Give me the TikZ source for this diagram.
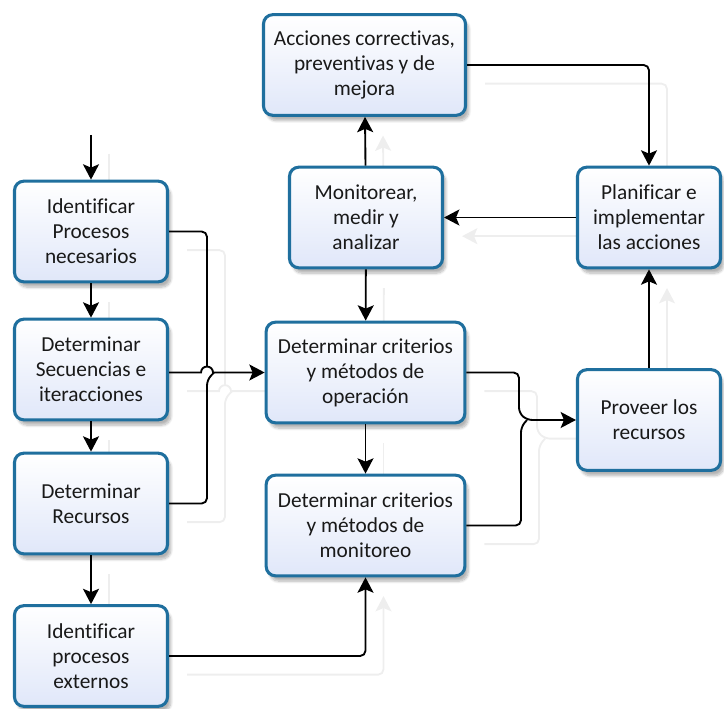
\documentclass[tikz,border=0pt]{standalone}
\usepackage{fontspec}
\setmainfont{Carlito}[Ligatures=NoCommon]
\usetikzlibrary{arrows.meta,shadows.blur,backgrounds}
\definecolor{boxedge}{RGB}{31,111,158}
\definecolor{boxlow}{RGB}{224,231,249}
\definecolor{ink}{RGB}{25,25,25}
\definecolor{ghostline}{RGB}{238,238,238}

\tikzset{
  box/.style={draw=boxedge, line width=2.3pt, rounded corners=7pt,
    top color=white, bottom color=boxlow, align=center, text=ink,
    font=\fontsize{16}{18.75}\selectfont, inner sep=0pt,
    blur shadow={shadow xshift=2.5pt, shadow yshift=-4pt, shadow blur steps=8, shadow opacity=30}},
  smallbox/.style={box, minimum width=114.75pt, minimum height=75.5pt},
  sidebox/.style={box, minimum width=107.25pt, minimum height=75.5pt},
  widebox/.style={box, minimum width=149pt, minimum height=75.5pt},
  wire/.style={line width=1.4pt, rounded corners=4pt},
  tip/.style={-{Stealth[length=11.5pt,width=12pt,inset=2.5pt]}},
}

% every connector of the chart; drawn once as a faint offset shadow, once in black
\newcommand\wiring{%
  \draw[wire,tip] (in) -- (idp.north);
  \draw[wire,tip] (idp) -- (sec);
  \draw[wire,tip] (sec) -- (rec);
  \draw[wire,tip] (rec) -- (ext);
  \draw[wire] (idp.east) -- (207,231.5) -- (207,366.5);
  \draw[wire,tip,sharp corners] (sec.east |- op.west) -- (201,372.5)
      arc[start angle=180,end angle=0,radius=4.5pt] -- (op.west);
  \draw[wire] (rec.east) -- (207,503.5) -- (207,380) -- (214,372.5);
  \draw[wire,tip] (op.east) -- (519,372.5) -- (519,413) -- (j2) -- (pro.west);
  \draw[wire] (mo.east) -- (521,525.5) -- (521,427) -- (j2);
  \draw[wire,tip] (mon) -- (acc);
  \draw[wire,tip] (acc.east) -| (pla.north);
  \draw[wire,tip] (pla) -- (mon);
  \draw[wire,tip] (mon) -- (op);
  \draw[wire,tip] (op) -- (mo);
  \draw[wire,tip] (pro) -- (pla);
  \draw[wire,tip] (ext.east) -| (mo.south);
}

\begin{document}
\begin{tikzpicture}[x=0.75pt,y=-0.75pt]
  \useasboundingbox (0,0) rectangle (724,709);

  % left column
  \node[smallbox] (idp) at (91,231.5) {Identificar\\Procesos\\necesarios};
  \node[smallbox] (sec) at (91,369.5) {Determinar\\Secuencias e\\iteracciones};
  \node[smallbox] (rec) at (91,503.5) {Determinar\\Recursos};
  \node[smallbox] (ext) at (91,656) {Identificar\\procesos\\externos};

  % middle column
  \node[widebox, minimum width=151.5pt] (acc) at (364.5,65) {Acciones correctivas,\\preventivas y de\\mejora};
  \node[smallbox] (mon) at (366,217.5) {Monitorear,\\medir y\\analizar};
  \node[widebox] (op) at (365.5,372.5) {Determinar criterios\\y métodos de\\operación};
  \node[widebox] (mo) at (365.5,525.5) {Determinar criterios\\y métodos de\\monitoreo};

  % right column
  \node[sidebox] (pla) at (649,217.5) {Planificar e\\implementar\\las acciones};
  \node[sidebox] (pro) at (649,420) {Proveer los\\recursos};

  \coordinate (in) at (91,135);
  \coordinate (j2) at (527,420);

  \begin{scope}[on background layer]
    \begin{scope}[transform canvas={shift={(13.5pt,-14pt)}}, color=ghostline]
      \wiring
    \end{scope}
  \end{scope}

  \begin{scope}[color=black]
    \wiring
  \end{scope}
\end{tikzpicture}
\end{document}
